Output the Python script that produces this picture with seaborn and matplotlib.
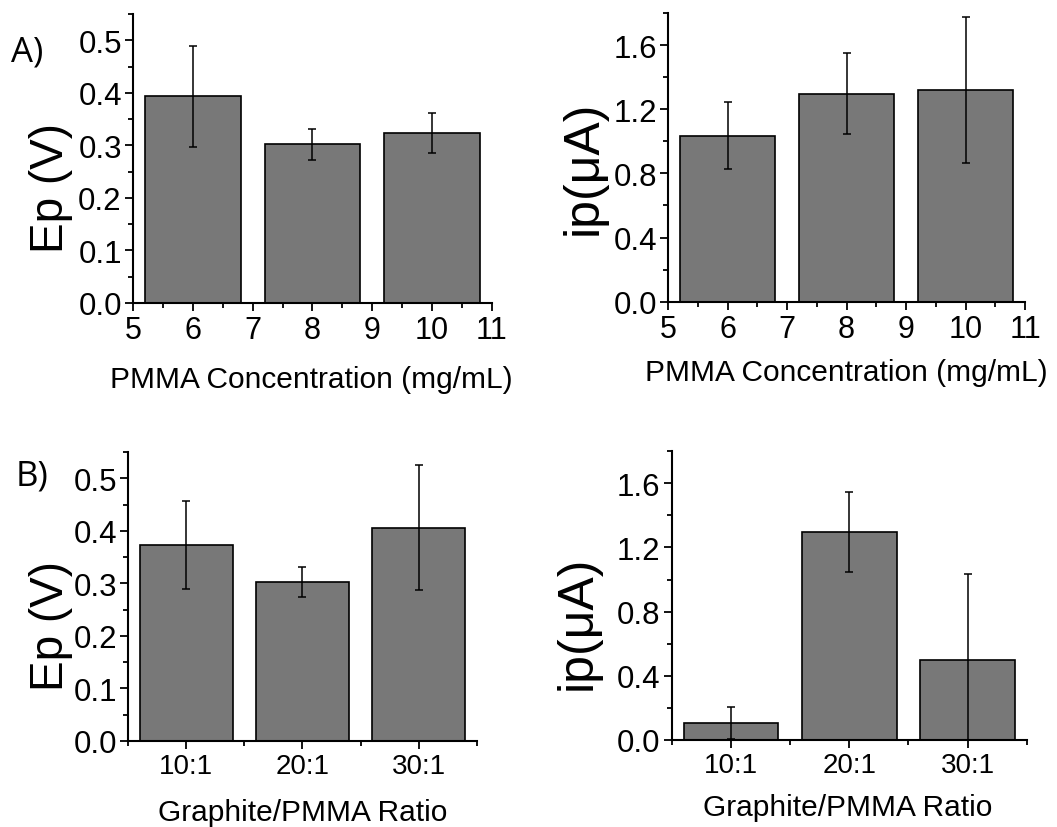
from matplotlib import pyplot as plt
from matplotlib.ticker import MultipleLocator, FixedLocator
import seaborn as sns
import pandas as pd

# data
conc = [6, 8, 10]
ep_conc = [0.393, 0.302, 0.324]
ep_conc_err = [0.096, 0.030, 0.038]
ip_conc = [1.035, 1.298, 1.322]
ip_conc_err = [0.21, 0.25, 0.455]

ratios = ['10:1', '20:1', '30:1']
ep_ratio = [0.373, 0.303, 0.406]
ep_ratio_err = [0.084, 0.029, 0.119]
ip_ratio = [0.105, 1.296, 0.50]
ip_ratio_err = [0.098, 0.25, 0.535]

bar_color = '#787878'

sns.set_style('ticks')
plt.rcParams['font.family'] = ['Liberation Sans', 'DejaVu Sans']
plt.rcParams['text.color'] = 'black'
plt.rcParams['axes.labelcolor'] = 'black'
plt.rcParams['axes.edgecolor'] = 'black'
plt.rcParams['xtick.color'] = 'black'
plt.rcParams['ytick.color'] = 'black'
plt.rcParams['axes.linewidth'] = 1.5
plt.rcParams['xtick.major.width'] = 1.3
plt.rcParams['ytick.major.width'] = 1.3
plt.rcParams['xtick.minor.width'] = 1.3
plt.rcParams['ytick.minor.width'] = 1.3
plt.rcParams['xtick.major.size'] = 6
plt.rcParams['ytick.major.size'] = 6
plt.rcParams['xtick.minor.size'] = 3.5
plt.rcParams['ytick.minor.size'] = 3.5
plt.rcParams['xtick.direction'] = 'out'
plt.rcParams['ytick.direction'] = 'out'

fig = plt.figure(figsize=(10.57, 8.28), dpi=100)
ax1 = fig.add_axes([0.1258, 0.6329, 0.3396, 0.349])
ax2 = fig.add_axes([0.632, 0.6344, 0.3378, 0.3487])
ax3 = fig.add_axes([0.1211, 0.1039, 0.330, 0.3487])
ax4 = fig.add_axes([0.6355, 0.1051, 0.3359, 0.3487])

df_conc = pd.DataFrame({'conc': conc, 'ep': ep_conc, 'ip': ip_conc})
df_ratio = pd.DataFrame({'ratio': ratios, 'ep': ep_ratio, 'ip': ip_ratio})

bar_kw = dict(color=bar_color, saturation=1, edgecolor='black', linewidth=1.2, errorbar=None)
err_kw = dict(fmt='none', ecolor='black', elinewidth=1.1, capsize=3, capthick=1.1)

sns.barplot(data=df_conc, x='conc', y='ep', native_scale=True, ax=ax1, **bar_kw)
ax1.errorbar(conc, ep_conc, yerr=ep_conc_err, **err_kw)
sns.barplot(data=df_conc, x='conc', y='ip', native_scale=True, ax=ax2, **bar_kw)
ax2.errorbar(conc, ip_conc, yerr=ip_conc_err, **err_kw)
sns.barplot(data=df_ratio, x='ratio', y='ep', order=ratios, ax=ax3, **bar_kw)
ax3.errorbar(range(len(ratios)), ep_ratio, yerr=ep_ratio_err, **err_kw)
sns.barplot(data=df_ratio, x='ratio', y='ip', order=ratios, ax=ax4, **bar_kw)
ax4.errorbar(range(len(ratios)), ip_ratio, yerr=ip_ratio_err, **err_kw)

for ax in (ax1, ax2):
    ax.set_xlim(5, 11)
    ax.xaxis.set_major_locator(MultipleLocator(1))
    ax.xaxis.set_minor_locator(MultipleLocator(0.5))
    ax.set_xlabel('PMMA Concentration (mg/mL)', fontsize=21.5)
    ax.tick_params(axis='x', labelsize=22, pad=3)
for ax in (ax3, ax4):
    ax.set_xlim(-0.5, 2.5)
    ax.xaxis.set_minor_locator(FixedLocator([-0.5, 0.5, 1.5, 2.5]))
    ax.set_xlabel('Graphite/PMMA Ratio', fontsize=21.5)
    ax.tick_params(axis='x', labelsize=20, pad=3)
for ax in (ax1, ax3):
    ax.set_ylim(0, 0.55)
    ax.yaxis.set_major_locator(MultipleLocator(0.1))
    ax.yaxis.set_minor_locator(MultipleLocator(0.05))
    ax.set_ylabel('Ep (V)', fontsize=33)
for ax in (ax2, ax4):
    ax.set_ylim(0, 1.8)
    ax.yaxis.set_major_locator(MultipleLocator(0.4))
    ax.yaxis.set_minor_locator(MultipleLocator(0.2))
    ax.set_ylabel('ip(\u03bcA)', fontsize=36)

label_pos = {ax1: ((0.496, -0.263), (-0.228, 0.40)),
             ax2: ((0.50, -0.244), (-0.235, 0.467)),
             ax3: ((0.50, -0.246), (-0.221, 0.40)),
             ax4: ((0.497, -0.232), (-0.264, 0.41))}
for ax, (xl, yl) in label_pos.items():
    ax.tick_params(axis='y', labelsize=22.5, pad=2)
    ax.xaxis.label.set_va('center')
    ax.yaxis.label.set_va('center')
    ax.xaxis.set_label_coords(*xl)
    ax.yaxis.set_label_coords(*yl)
    ax.yaxis.set_major_formatter(plt.FormatStrFormatter('%.1f'))
    sns.despine(ax=ax)

fig.text(0.026, 0.937, 'A)', fontsize=25, family=['Open Sans', 'DejaVu Sans'], ha='center', va='center')
fig.text(0.030, 0.424, 'B)', fontsize=25, family=['Open Sans', 'DejaVu Sans'], ha='center', va='center')

fig.savefig('out.png', dpi=100)
